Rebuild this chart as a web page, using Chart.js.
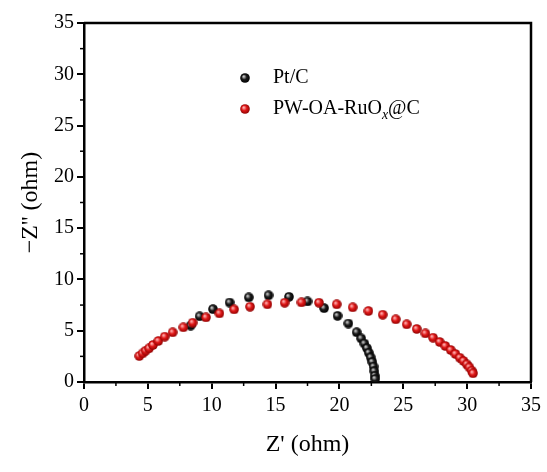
<!DOCTYPE html>
<html>
<head>
<meta charset="utf-8">
<script src="https://cdn.jsdelivr.net/npm/chart.js@4"></script>
<style>
  html, body { margin: 0; padding: 0; background: #fff; }
  #wrap { width: 547px; height: 472px; }
</style>
</head>
<body>
<div id="wrap"><canvas id="eis"></canvas></div>
<script>
// Nyquist data
const ptcX = [8.35, 9.05, 10.1, 11.4, 12.9, 14.45, 16.05, 17.5, 18.8, 19.85, 20.7, 21.35, 21.7, 21.95, 22.15, 22.3, 22.45, 22.57, 22.67, 22.73, 22.77, 22.8];
const ptcY = [5.5, 6.4, 7.1, 7.75, 8.25, 8.45, 8.3, 7.85, 7.2, 6.45, 5.7, 4.85, 4.25, 3.75, 3.3, 2.85, 2.4, 1.95, 1.5, 1.05, 0.6, 0.3];

const ruoX = [4.33, 4.59, 4.83, 5.09, 5.4, 5.82, 6.32, 6.94, 7.78, 8.51, 9.55, 10.6, 11.75, 13.0, 14.36, 15.71, 17.03, 18.4, 19.79, 21.04, 22.27, 23.39, 24.41, 25.27, 26.05, 26.73, 27.33, 27.85, 28.29, 28.71, 29.08, 29.42, 29.71, 29.97, 30.17, 30.36, 30.46];
const ruoY = [2.53, 2.79, 3.05, 3.28, 3.61, 4.0, 4.42, 4.84, 5.33, 5.78, 6.3, 6.69, 7.08, 7.34, 7.57, 7.73, 7.76, 7.73, 7.57, 7.28, 6.92, 6.56, 6.11, 5.62, 5.17, 4.74, 4.32, 3.9, 3.51, 3.12, 2.73, 2.37, 2.05, 1.72, 1.43, 1.1, 0.85];

const xTicks = [0, 5, 10, 15, 20, 25, 30, 35];
const yTicks = [0, 5, 10, 15, 20, 25, 30, 35];
const seriesNames = ['Pt/C', 'PW-OA-RuO', 'x', '@C'];

const FONT = '"Liberation Serif", "Times New Roman", serif';

// shaded ball markers
function ball(light, mid, dark) {
    const c = document.createElement('canvas');
    c.width = 10; c.height = 10;
    const g = c.getContext('2d');
    const grad = g.createRadialGradient(3.6, 3.4, 0.5, 5, 5, 5);
    grad.addColorStop(0, light);
    grad.addColorStop(0.45, mid);
    grad.addColorStop(1, dark);
    g.fillStyle = grad;
    g.beginPath();
    g.arc(5, 5, 4.8, 0, Math.PI * 2);
    g.fill();
    return c;
}
const blackBall = ball('#c8c8c8', '#1a1a1a', '#000000');
const redBall = ball('#ffb0b0', '#e01818', '#8a0000');

function pts(xs, ys) {
    return xs.map((x, i) => ({ x: x, y: ys[i] }));
}

// frame on top/right, minor ticks and legend
const extras = {
    id: 'extras',
    afterDraw(chart) {
        const c = chart.ctx;
        const a = chart.chartArea;
        const xs = chart.scales.x, ys = chart.scales.y;
        c.save();
        c.strokeStyle = '#000';
        c.lineWidth = 2.5;
        c.beginPath();
        c.moveTo(a.left, a.top);
        c.lineTo(a.right, a.top);
        c.lineTo(a.right, a.bottom);
        c.stroke();
        // minor ticks
        c.lineWidth = 1.5;
        for (let v = 2.5; v < 35; v += 5) {
            const px = xs.getPixelForValue(v);
            c.beginPath();
            c.moveTo(px, a.bottom);
            c.lineTo(px, a.bottom + 4);
            c.stroke();
            const py = ys.getPixelForValue(v);
            c.beginPath();
            c.moveTo(a.left, py);
            c.lineTo(a.left - 4, py);
            c.stroke();
        }
        // legend
        c.drawImage(blackBall, 240, 73);
        c.drawImage(redBall, 240, 104);
        c.fillStyle = '#000';
        c.textBaseline = 'middle';
        c.font = '20px ' + FONT;
        c.fillText(seriesNames[0], 273, 78);
        c.fillText(seriesNames[1], 273, 109);
        let w = c.measureText(seriesNames[1]).width;
        c.font = 'italic 14px ' + FONT;
        c.fillText(seriesNames[2], 273 + w, 115);
        w += c.measureText(seriesNames[2]).width;
        c.font = '20px ' + FONT;
        c.fillText(seriesNames[3], 273 + w, 109);
        c.restore();
    }
};

new Chart(document.getElementById('eis'), {
    type: 'scatter',
    data: {
        datasets: [
            {
                label: 'PW-OA-RuOx@C',
                data: pts(ruoX, ruoY),
                pointStyle: redBall,
                pointRadius: 5
            },
            {
                label: 'Pt/C',
                data: pts(ptcX, ptcY),
                pointStyle: blackBall,
                pointRadius: 5
            }
        ]
    },
    options: {
        responsive: true,
        maintainAspectRatio: false,
        animation: false,
        layout: { padding: { left: 0, top: 23, right: 16, bottom: 0 } },
        plugins: {
            legend: { display: false },
            tooltip: { enabled: false }
        },
        scales: {
            x: {
                type: 'linear',
                min: 0, max: 35,
                afterBuildTicks: s => { s.ticks = xTicks.map(v => ({ value: v })); },
                afterFit: s => { s.height = 90; },
                border: { display: true, color: '#000', width: 2.5 },
                grid: { drawOnChartArea: false, drawTicks: true, tickLength: 7, color: '#000', lineWidth: 2 },
                ticks: { color: '#000', font: { family: FONT, size: 20 }, padding: 5, maxRotation: 0 },
                title: { display: true, text: "Z' (ohm)", color: '#000', font: { family: FONT, size: 24 }, padding: { top: 0, bottom: 13 } }
            },
            y: {
                type: 'linear',
                min: 0, max: 35,
                afterBuildTicks: s => { s.ticks = yTicks.map(v => ({ value: v })); },
                afterFit: s => { s.width = 84; },
                border: { display: true, color: '#000', width: 2.5 },
                grid: { drawOnChartArea: false, drawTicks: true, tickLength: 7, color: '#000', lineWidth: 2 },
                ticks: { color: '#000', font: { family: FONT, size: 20 }, padding: 3 },
                title: { display: true, text: "\u2212Z'' (ohm)", color: '#000', font: { family: FONT, size: 24 }, padding: { top: 16, bottom: 0 } }
            }
        }
    },
    plugins: [extras]
});
</script>
</body>
</html>
